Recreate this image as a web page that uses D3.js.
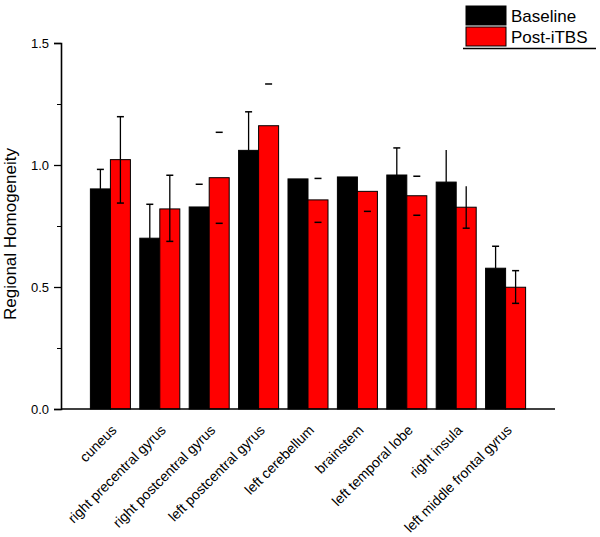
<!DOCTYPE html>
<html>
<head>
<meta charset="utf-8">
<script src="https://cdn.jsdelivr.net/npm/d3@7"></script>
<style>
  body { margin: 0; background: #fff; }
  text { font-family: "Liberation Sans", Arial, sans-serif; }
</style>
</head>
<body>
<svg id="chart" width="600" height="537"></svg>
<script>
let regions = ['cuneus', 'right precentral gyrus', 'right postcentral gyrus', 'left postcentral gyrus',
  'left cerebellum', 'brainstem', 'left temporal lobe', 'right insula', 'left middle frontal gyrus']
let seriesNames = ['Baseline', 'Post-iTBS']

let baseline = [0.902, 0.700, 0.828, 1.060, 0.943, 0.951, 0.959, 0.930, 0.577]
let postTBS = [1.022, 0.820, 0.948, 1.161, 0.857, 0.892, 0.874, 0.827, 0.499]

// error bar ends (null = not shown)
let baseHi = [0.982, 0.839, 0.921, 1.218, null, null, 1.070, 1.061, 0.667]
let baseHiCap = [1, 1, 1, 1, 0, 0, 1, 0, 1]
let baseStem = [1, 1, 0, 1, 0, 0, 1, 1, 1]

let postHi = [1.198, 0.958, 1.134, 1.332, 0.945, null, 0.954, 0.913, 0.567]
let postHiCap = [1, 1, 1, 1, 1, 0, 1, 0, 1]
let postLo = [0.844, 0.687, 0.761, null, 0.765, 0.810, 0.794, 0.741, 0.433]
let postStem = [1, 1, 0, 0, 0, 0, 0, 1, 1]

let yTicks = [0, 0.5, 1.0, 1.5]
let yMinorTicks = [0.25, 0.75, 1.25]

let colors = ['#000000', '#ff0000']

let svg = d3.select('#chart')

let y = d3.scaleLinear().domain([0, 1.5]).range([409, 43])

let x = d3.scaleBand().domain(regions).range([61, 555])
  .paddingInner(0.19).paddingOuter(0.595)

let xs = d3.scaleBand().domain(seriesNames).range([0, x.bandwidth()])

let groups = regions.map(function(r, i){
  return [
    {name: 'Baseline', region: r, v: baseline[i], hi: baseHi[i], hiCap: baseHiCap[i], lo: null, stem: baseStem[i]},
    {name: 'Post-iTBS', region: r, v: postTBS[i], hi: postHi[i], hiCap: postHiCap[i], lo: postLo[i], stem: postStem[i]}
  ]
})

let g = svg.selectAll('.group')
  .data(groups)
  .enter()
  .append('g')
  .attr('class', 'group')
  .attr('transform', (d, i) => 'translate(' + x(regions[i]) + ',0)')

g.selectAll('rect')
  .data(d => d)
  .enter()
  .append('rect')
  .attr('x', d => xs(d.name))
  .attr('width', xs.bandwidth())
  .attr('y', d => y(d.v))
  .attr('height', d => y(0) - y(d.v))
  .attr('fill', (d, i) => colors[i])
  .attr('stroke', '#000')
  .attr('stroke-width', 1)

// stems
g.selectAll('.stem')
  .data(d => d.filter(e => e.stem))
  .enter()
  .append('line')
  .attr('x1', d => xs(d.name) + xs.bandwidth() / 2)
  .attr('x2', d => xs(d.name) + xs.bandwidth() / 2)
  .attr('y1', d => y(d.lo != null ? d.lo : d.v))
  .attr('y2', d => y(d.hi))
  .attr('stroke', '#000')
  .attr('stroke-width', 1.3)

// caps
let caps = []
groups.forEach(function(grp, i){
  grp.forEach(function(e){
    if(e.hi != null && e.hiCap) caps.push({region: e.region, name: e.name, v: e.hi})
    if(e.lo != null) caps.push({region: e.region, name: e.name, v: e.lo})
  })
})

svg.selectAll('.cap')
  .data(caps)
  .enter()
  .append('line')
  .attr('class', 'cap')
  .attr('x1', d => x(d.region) + xs(d.name) + xs.bandwidth() / 2 - 3.5)
  .attr('x2', d => x(d.region) + xs(d.name) + xs.bandwidth() / 2 + 3.5)
  .attr('y1', d => y(d.v))
  .attr('y2', d => y(d.v))
  .attr('stroke', '#000')
  .attr('stroke-width', 1.5)

// y axis
let yAxis = d3.axisLeft(y).tickValues(yTicks).tickFormat(d3.format('.1f')).tickSize(7).tickPadding(5)
let ya = svg.append('g').attr('transform', 'translate(61,0)').call(yAxis)
ya.select('.domain').attr('stroke-width', 1.6)
ya.selectAll('.tick line').attr('stroke-width', 1.3)
ya.selectAll('text').attr('font-size', 13).attr('fill', '#000')
  .attr('font-family', '"Liberation Sans", Arial, sans-serif')

svg.append('g')
  .attr('transform', 'translate(61,0)')
  .call(d3.axisLeft(y).tickValues(yMinorTicks).tickSize(4).tickFormat(''))
  .call(a => a.select('.domain').remove())

// x axis line
svg.append('line')
  .attr('x1', 61).attr('x2', 555)
  .attr('y1', y(0)).attr('y2', y(0))
  .attr('stroke', '#000').attr('stroke-width', 1.3)

// x labels
svg.selectAll('.xlabel')
  .data(regions)
  .enter()
  .append('text')
  .attr('class', 'xlabel')
  .attr('transform', d => 'translate(' + (x(d) + x.bandwidth() / 2 + 7) + ',431) rotate(-45)')
  .attr('text-anchor', 'end')
  .attr('font-size', 14)
  .text(d => d)

// y title
svg.append('text')
  .attr('transform', 'translate(16,234) rotate(-90)')
  .attr('text-anchor', 'middle')
  .attr('font-size', 17)
  .text('Regional Homogeneity')

// legend
let legend = svg.append('g')
legend.selectAll('rect')
  .data(seriesNames)
  .enter()
  .append('rect')
  .attr('x', 466)
  .attr('y', (d, i) => 6 + i * 21)
  .attr('width', 40)
  .attr('height', 19)
  .attr('fill', (d, i) => colors[i])
  .attr('stroke', '#000')
  .attr('stroke-width', 1)

legend.selectAll('text')
  .data(seriesNames)
  .enter()
  .append('text')
  .attr('x', 511)
  .attr('y', (d, i) => 22 + i * 21)
  .attr('font-size', 17)
  .text(d => d)

legend.append('line')
  .attr('x1', 463).attr('x2', 596)
  .attr('y1', 48.5).attr('y2', 48.5)
  .attr('stroke', '#000').attr('stroke-width', 1.3)
</script>
</body>
</html>
